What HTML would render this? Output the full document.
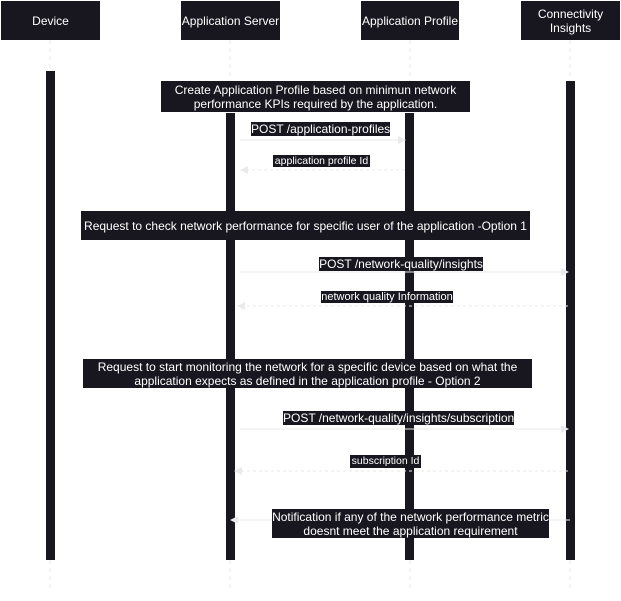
<!DOCTYPE html>
<html><head><style>
body{margin:0;width:621px;height:601px;background:#fff;position:relative;overflow:hidden;font-family:"Liberation Sans",sans-serif;}
.d{position:absolute;background:#18171f;color:#fff;text-align:center;box-sizing:border-box;}
.h{font-size:12px;display:flex;align-items:center;justify-content:center;line-height:14px;}
.n{font-size:12px;line-height:14px;display:flex;align-items:center;justify-content:center;}
.l{font-size:12px;line-height:14px;white-space:nowrap;overflow:hidden;}
.s{font-size:10.5px;line-height:12px;white-space:nowrap;overflow:hidden;}
svg{position:absolute;left:0;top:0;}
</style></head><body>
<svg width="621" height="601">
<g stroke="#e8e8e8" stroke-dasharray="4 4" stroke-width="1">
<line x1="50" y1="40" x2="50" y2="592"/><line x1="230" y1="40" x2="230" y2="592"/>
<line x1="410" y1="40" x2="410" y2="592"/><line x1="570" y1="40" x2="570" y2="592"/>
</g>
<g fill="#18171f">
<rect x="46" y="71" width="9" height="489"/>
<rect x="226" y="113" width="9" height="447"/>
<rect x="405" y="113" width="9" height="447"/>
<rect x="566" y="81" width="9" height="479"/>
</g>
<g stroke="#eaeaea" stroke-width="1" fill="none">
<line x1="240" y1="140" x2="400" y2="140"/>
<line x1="405" y1="170" x2="246" y2="170" stroke-dasharray="3 3"/>
<line x1="240" y1="272" x2="563" y2="272"/>
<line x1="568" y1="306" x2="243" y2="306" stroke-dasharray="3 3"/>
<line x1="240" y1="429" x2="563" y2="429"/>
<line x1="568" y1="471" x2="240" y2="471" stroke-dasharray="3 3"/>
<line x1="570" y1="520" x2="236" y2="520"/>
</g>
<g fill="#eaeaea">
<path d="M406,140 l-8,-4 v8z"/><path d="M240,170 l8,-4 v8z"/>
<path d="M569,272 l-8,-4 v8z"/><path d="M237,306 l8,-4 v8z"/>
<path d="M569,429 l-8,-4 v8z"/><path d="M234,471 l8,-4 v8z"/>
<path d="M230,520 l8,-4 v8z"/>
</g>
</svg>
<div class="d h" style="left:1px;top:1px;width:99px;height:39px;">Device</div>
<div class="d h" style="left:181px;top:1px;width:99px;height:39px;">Application Server</div>
<div class="d h" style="left:361px;top:1px;width:98px;height:39px;">Application Profile</div>
<div class="d h" style="left:521px;top:1px;width:99px;height:39px;">Connectivity<br>Insights</div>
<div class="d n" style="left:161px;top:81px;width:309px;height:31px;">Create Application Profile based on minimun network<br>performance KPIs required by the application.</div>
<div class="d l" style="left:251px;top:122px;width:139px;height:14px;">POST /application-profiles</div>
<div class="d s" style="left:273px;top:155px;width:97px;height:12px;">application profile Id</div>
<div class="d n" style="left:81px;top:211px;width:449px;height:29px;">Request to check network performance for specific user of the application -Option 1</div>
<div class="d l" style="left:319px;top:257px;width:164px;height:14px;">POST /network-quality/insights</div>
<div class="d s" style="left:321px;top:291px;width:132px;height:12px;font-size:11px;">network quality Information</div>
<div class="d n" style="left:83px;top:359px;width:449px;height:29px;">Request to start monitoring the network for a specific device based on what the<br>application expects as defined in the application profile - Option 2</div>
<div class="d l" style="left:283px;top:411px;width:231px;height:14px;">POST /network-quality/insights/subscription</div>
<div class="d s" style="left:350px;top:455px;width:71px;height:13px;">subscription Id</div>
<div class="d n" style="left:272px;top:509px;width:277px;height:29px;">Notification if any of the network performance metric<br>doesnt meet the application requirement</div>
</body></html>
